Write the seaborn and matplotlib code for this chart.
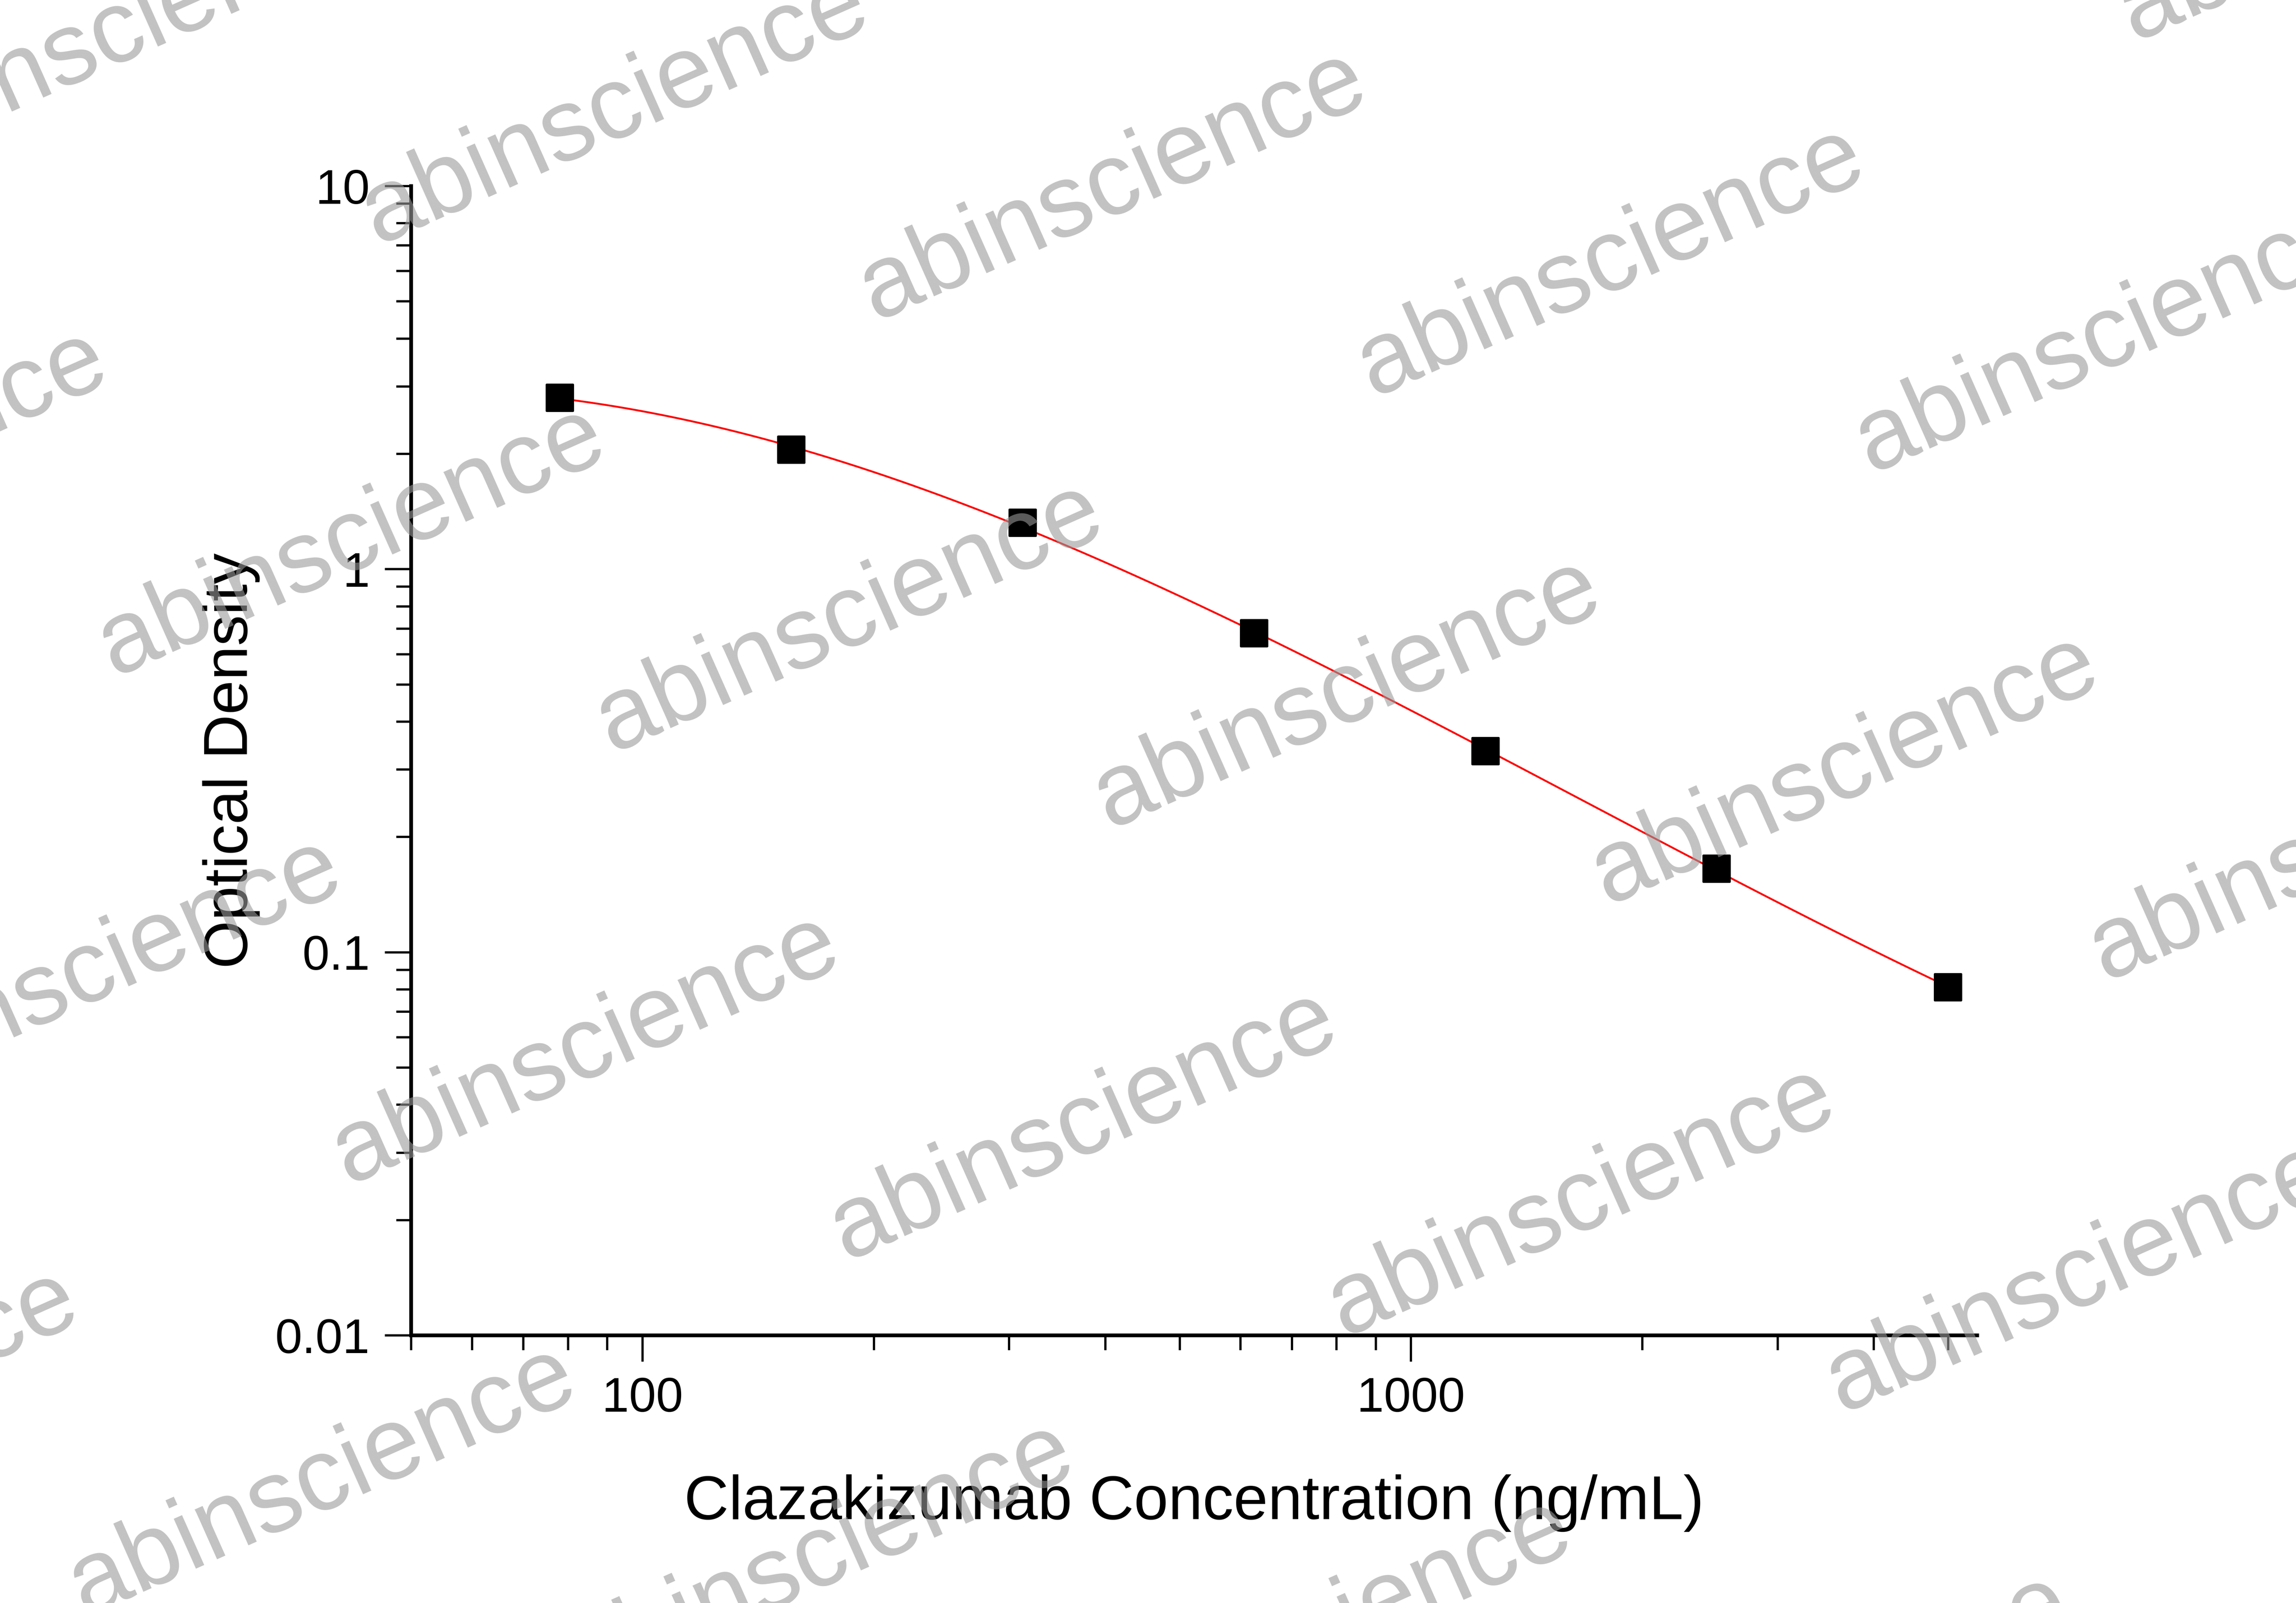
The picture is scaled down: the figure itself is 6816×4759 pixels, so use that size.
import matplotlib
matplotlib.use("Agg")
import matplotlib.pyplot as plt
import matplotlib.ticker as mticker
import numpy as np
import pandas as pd
import seaborn as sns

# Datos
conc = [78.125, 156.25, 312.5, 625, 1250, 2500, 5000]
od = [2.80, 2.05, 1.32, 0.68, 0.335, 0.165, 0.081]

sns.set_theme(style="white")
plt.rcParams["font.family"] = ["Liberation Sans", "DejaVu Sans"]
plt.rcParams["text.color"] = "black"
plt.rcParams["axes.labelcolor"] = "black"

fig = plt.figure(figsize=(17.04, 11.8975), dpi=400)
ax = fig.add_axes([0.179, 0.167, 0.682, 0.717])

# curva ajustada (polinomio en log-log)
lx, ly = np.log10(conc), np.log10(od)
coef = np.polyfit(lx, ly, 3)
xs = np.linspace(lx[0], lx[-1], 300)
curve = pd.DataFrame({"x": 10 ** xs, "y": 10 ** np.polyval(coef, xs)})
sns.lineplot(data=curve, x="x", y="y", color="red", linewidth=1.0, ax=ax)

pts = pd.DataFrame({"x": conc, "y": od})
sns.scatterplot(data=pts, x="x", y="y", marker="s", s=200, color="black",
                edgecolor="black", ax=ax, zorder=5)

ax.set_xscale("log")
ax.set_yscale("log")
ax.set_xlim(50, 5450)
ax.set_ylim(0.01, 10)
ax.xaxis.set_major_locator(mticker.FixedLocator([100, 1000]))
ax.xaxis.set_major_formatter(mticker.FixedFormatter(["100", "1000"]))
ax.xaxis.set_minor_locator(mticker.LogLocator(subs=np.arange(2, 10)))
ax.xaxis.set_minor_formatter(mticker.NullFormatter())
ax.yaxis.set_major_locator(mticker.FixedLocator([0.01, 0.1, 1, 10]))
ax.yaxis.set_major_formatter(mticker.FixedFormatter(["0.01", "0.1", "1", "10"]))
ax.yaxis.set_minor_locator(mticker.LogLocator(subs=np.arange(2, 10)))
ax.yaxis.set_minor_formatter(mticker.NullFormatter())

for s in ["top", "right"]:
    ax.spines[s].set_visible(False)
for s in ["left", "bottom"]:
    ax.spines[s].set_color("black")
    ax.spines[s].set_linewidth(2.0)
ax.tick_params(which="major", direction="out", length=14, width=1.2,
               labelsize=26, colors="black", left=True, bottom=True, pad=8)
ax.tick_params(which="minor", direction="out", length=8, width=1.2,
               colors="black", left=True, bottom=True)
ax.set_xlabel("Clazakizumab Concentration (ng/mL)", fontsize=33, labelpad=28)
ax.set_ylabel("Optical Density", fontsize=33, labelpad=8)

# marcas de agua
for i in range(-2, 6):
    for j in range(-1, 5):
        cx = 420 + i * 340 - j * 180
        cy = 75 + i * 52 + j * 295
        fig.text(cx / 1568, 1 - cy / 1095, "abinscience", fontsize=55,
                 color="#9a9a9a", alpha=0.6, rotation=24,
                 ha="center", va="center", zorder=10)

fig.savefig("out.png", dpi=400)
